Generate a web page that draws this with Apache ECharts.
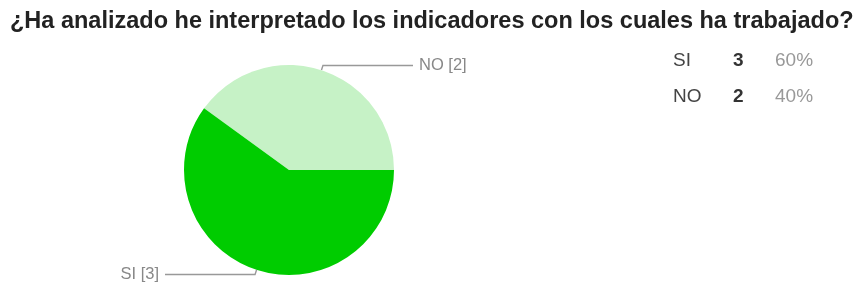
<!DOCTYPE html>
<html>
<head>
<meta charset="utf-8">
<script src="https://cdn.jsdelivr.net/npm/echarts@6/dist/echarts.min.js"></script>
<style>
  html, body { margin: 0; padding: 0; background: #fff; }
  #chart { width: 862px; height: 291px; }
</style>
</head>
<body>
<div id="chart"></div>
<script>
// datos de la encuesta
const titulo = '¿Ha analizado he interpretado los indicadores con los cuales ha trabajado?'
const categorias = ['NO', 'SI']
const valores = [2, 3]
const colores = ['#c6f2c6', '#00cc00']

const total = valores.reduce((a, b) => a + b, 0)

// tabla de la derecha (SI primero)
const filas = ['SI', 'NO']
const tabla = []
filas.forEach((nombre, i) => {
  const v = valores[categorias.indexOf(nombre)]
  const y = 61 + i * 36
  const base = { verticalAlign: 'middle', font: '19px "Liberation Sans", Arial' }
  tabla.push(
    { type: 'text', x: 673, y: y, style: Object.assign({}, base, { text: nombre, fill: '#444' }) },
    { type: 'text', x: 733, y: y, style: Object.assign({}, base, { text: String(v), fill: '#333', font: 'bold 19px "Liberation Sans", Arial' }) },
    { type: 'text', x: 775, y: y, style: Object.assign({}, base, { text: Math.round(v / total * 100) + '%', fill: '#999' }) }
  )
})

const chart = echarts.init(document.getElementById('chart'))
const option = {
  animation: false,
  title: {
    text: titulo,
    left: 5,
    top: 5,
    textStyle: {
      fontFamily: '"Liberation Sans", Arial',
      fontSize: 23.5,
      fontWeight: 'bold',
      color: '#222'
    }
  },
  graphic: tabla,
  series: [{
    type: 'pie',
    center: [289, 170],
    radius: 105,
    startAngle: 144,
    clockwise: true,
    data: categorias.map((c, i) => ({
      name: c,
      value: valores[i],
      itemStyle: { color: colores[i] }
    })),
    label: {
      formatter: '{b} [{c}]',
      fontFamily: '"Liberation Sans", Arial',
      fontSize: 16.5,
      color: '#888',
      distanceToLabelLine: 6
    },
    labelLine: {
      length: 5,
      length2: 90,
      lineStyle: { color: '#999', width: 1.5 }
    },
    emphasis: { disabled: true }
  }]
}
chart.setOption(option)
</script>
</body>
</html>
